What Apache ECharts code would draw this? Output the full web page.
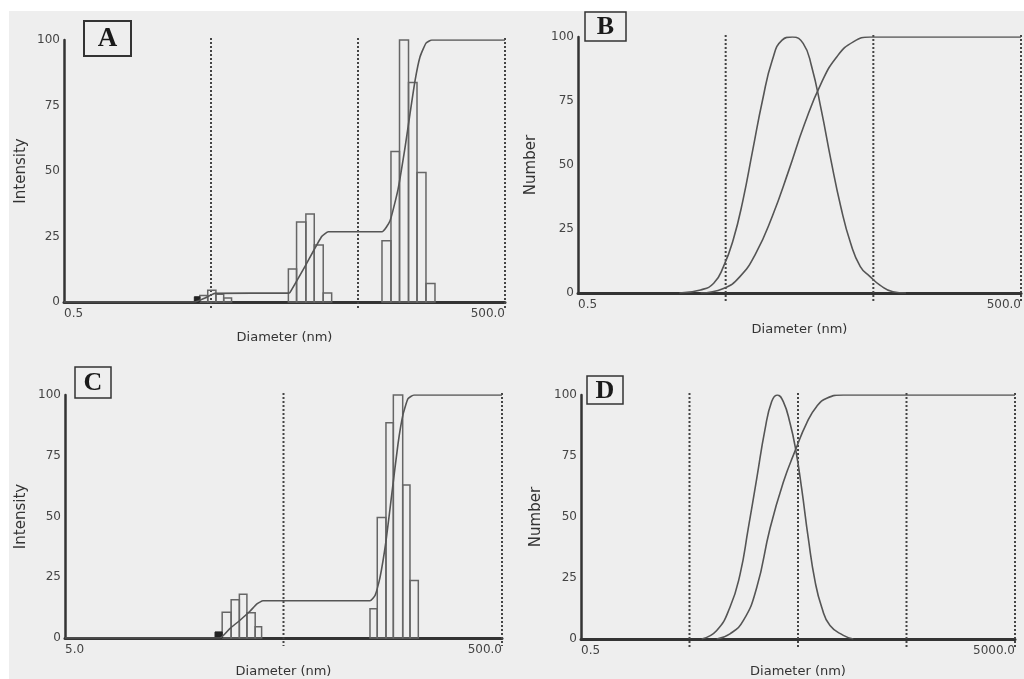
<!DOCTYPE html>
<html>
<head>
<meta charset="utf-8">
<script src="https://cdn.jsdelivr.net/npm/echarts@6/dist/echarts.min.js"></script>
<style>
html, body { margin: 0; padding: 0; background: #fff; }
#wrap { position: relative; width: 1024px; height: 679px; overflow: hidden; }
#paper { position: absolute; left: 9px; top: 11px; right: 0; bottom: 0; background: #eeeeee; }
#main { position: absolute; left: 0; top: 0; width: 1024px; height: 679px; }
</style>
</head>
<body>
<div id="wrap"><div id="paper"></div><div id="main"></div></div>
<script>
// ---- data, diameters in nm ----
// A: intensity histogram [from, to, %]
var barsA = [
  [4.2, 4.75, 2.5], [4.75, 5.4, 4.5], [5.4, 6.1, 3], [6.1, 6.9, 1.5],
  [16.8, 19.1, 12.6], [19.1, 22.1, 30.5], [22.1, 25.2, 33.6], [25.2, 29.0, 21.8], [29.0, 33.1, 3.4],
  [72.8, 83.8, 23.4], [83.8, 95.8, 57.4], [95.8, 110.3, 100], [110.3, 126, 83.8], [126, 145, 49.4], [145, 167, 7.1]
];
var solidA = [[3.85, 4.2, 2]];
var cumA = [[0.5, 0], [3.89, 0], [4.55, 1.5], [5.32, 3.3], [16.7, 3.4], [17.2, 3.6], [22, 14], [28.3, 25], [31.4, 26.8],
  [72.8, 26.8], [82.6, 31], [93.6, 43], [104.5, 59], [113, 72], [122.2, 84.5], [132, 93.5], [145.1, 98.8], [159, 100], [500, 100]];

// B: number distribution
var numB = [[2.43, 0], [3.38, 1.2], [4.15, 3.8], [4.83, 10.3], [5.62, 20.7], [6.55, 36.3], [7.63, 55.9], [8.89, 75.4],
  [10.35, 91], [12.05, 98.8], [14.16, 100], [16.74, 97.5], [19.05, 88.8], [22.2, 71.5], [25.8, 52], [30.1, 33.7],
  [35.1, 19.4], [40.8, 10.3], [47.5, 6.4], [55.4, 3.1], [67.8, 0.5], [83.1, 0]];
var cumB = [[3.38, 0], [4.83, 1.8], [6.2, 6.2], [8.0, 15.5], [10.35, 30], [13.4, 48], [17.1, 66], [22.2, 82],
  [28.5, 92.5], [36.8, 98.2], [47.5, 100], [61.3, 100], [500, 100]];

// C: intensity histogram
var barsC = [
  [26.2, 28.8, 10.6], [28.8, 31.4, 15.7], [31.4, 34.0, 18], [34.0, 37.1, 10.4], [37.1, 39.7, 4.6],
  [124.4, 134.3, 12], [134.3, 147.2, 49.6], [147.2, 159.1, 88.6], [159.1, 175.6, 100], [175.6, 189.6, 63], [189.6, 207, 23.7]
];
var solidC = [[24.3, 26.2, 2.5]];
var cumC = [[5, 0], [25.6, 0], [28.5, 4], [31.6, 7.3], [35.1, 11], [37.8, 14], [40.3, 15.3], [124.4, 15.3], [131.2, 17.5],
  [138.3, 25], [147.3, 40], [156.9, 60], [167.2, 80], [176.2, 92], [185.7, 98.5], [197.8, 100], [500, 100]];

// D: number distribution
var numD = [[6.48, 0], [8.91, 3.5], [11.8, 13], [14.6, 26.4], [17.4, 45.3], [20.8, 65.6], [24.8, 85.8], [28.6, 97.3],
  [32.2, 100], [36.6, 97.3], [42.2, 88.5], [47.6, 77.7], [54.1, 61.5], [62.2, 41.3], [71.7, 23.8], [82.7, 13],
  [98.6, 5.5], [130.9, 1.5], [161.7, 0]];
var cumD = [[8.91, 0], [11.8, 2.1], [15.7, 7.6], [20.8, 21], [27.6, 45.3], [36.6, 64.2], [47.6, 77.7], [60.1, 88.5],
  [74.3, 95.3], [92, 98.7], [130.9, 100], [5000, 100]];

// dotted guides and axis ranges
var guidesA = [5, 50, 500];
var guidesB = [5, 50, 500];
var guidesC = [50, 500];
var guidesD = [5, 50, 500, 5000];
var rangeA = [0.5, 500], rangeB = [0.5, 500], rangeC = [5, 500], rangeD = [0.5, 5000];
var xLabelsA = ['0.5', '500.0'], xLabelsB = ['0.5', '500.0'], xLabelsC = ['5.0', '500.0'], xLabelsD = ['0.5', '5000.0'];
var yNames = ['Intensity', 'Number', 'Intensity', 'Number'];
var panelNames = ['A', 'B', 'C', 'D'];

var ink = '#333';
var curve = '#555';
var font = 'DejaVu Sans';

var chart = echarts.init(document.getElementById('main'), null, { renderer: 'canvas' });

function xAxis(gi, range, labels, gap) {
  return {
    type: 'log', logBase: 10, gridIndex: gi, min: range[0], max: range[1],
    name: 'Diameter (nm)', nameLocation: 'middle', nameGap: gap,
    nameTextStyle: { color: ink, fontFamily: font, fontSize: 13 },
    axisLine: { onZero: false, lineStyle: { color: ink, width: 3 } },
    axisTick: { show: false }, splitLine: { show: false },
    axisLabel: {
      color: '#444', fontFamily: font, fontSize: 12, margin: 6,
      showMinLabel: true, showMaxLabel: true, alignMinLabel: 'left', alignMaxLabel: 'right',
      formatter: function (v) {
        if (Math.abs(v / range[0] - 1) < 1e-3) return labels[0];
        if (Math.abs(v / range[1] - 1) < 1e-3) return labels[1];
        return '';
      }
    }
  };
}

function yAxis(gi, name, gap) {
  return {
    type: 'value', gridIndex: gi, min: 0, max: 100, interval: 25,
    name: name, nameLocation: 'middle', nameGap: gap,
    nameTextStyle: { color: ink, fontFamily: font, fontSize: 15 },
    axisLine: { show: true, lineStyle: { color: ink, width: 2.5 } },
    axisTick: { show: false }, splitLine: { show: false },
    axisLabel: { color: '#444', fontFamily: font, fontSize: 12, margin: 4 }
  };
}

// outlined histogram bars
function barSeries(gi, data, filled) {
  return {
    type: 'custom', xAxisIndex: gi, yAxisIndex: gi, data: data, clip: false, z: 3,
    renderItem: function (params, api) {
      var a = api.coord([api.value(0), 0]);
      var b = api.coord([api.value(1), api.value(2)]);
      return {
        type: 'rect',
        shape: { x: a[0], y: b[1], width: b[0] - a[0], height: a[1] - b[1] },
        style: filled ? { fill: '#222', stroke: '#222', lineWidth: 1 }
                      : { fill: 'none', stroke: '#666', lineWidth: 1.5 }
      };
    }
  };
}

// vertical dotted decade lines
function guideSeries(gi, vals) {
  return {
    type: 'custom', xAxisIndex: gi, yAxisIndex: gi, data: vals.map(function (v) { return [v]; }), clip: false, z: 2,
    renderItem: function (params, api) {
      var top = api.coord([api.value(0), 100]);
      var bot = api.coord([api.value(0), 0]);
      return {
        type: 'line',
        shape: { x1: top[0], y1: top[1] - 2, x2: bot[0], y2: bot[1] + 8 },
        style: { stroke: '#444', lineWidth: 2, lineDash: [2, 2] }
      };
    }
  };
}

function lineSeries(gi, data, smooth) {
  return {
    type: 'line', xAxisIndex: gi, yAxisIndex: gi, data: data, showSymbol: false, symbol: 'none',
    smooth: smooth, z: 4,
    lineStyle: { color: curve, width: 1.6 }
  };
}

var boxes = [
  { t: 'A', x: 84, y: 21, w: 47, h: 35, s: 27, lw: 2 },
  { t: 'B', x: 585, y: 12, w: 41, h: 29, s: 26, lw: 1.5 },
  { t: 'C', x: 75, y: 367, w: 36, h: 31, s: 26, lw: 1.5 },
  { t: 'D', x: 587, y: 376, w: 36, h: 28, s: 26, lw: 1.5 }
];
var graphics = [];
boxes.forEach(function (b, i) {
  graphics.push({ type: 'rect', shape: { x: b.x, y: b.y, width: b.w, height: b.h },
    style: { fill: 'none', stroke: '#333', lineWidth: b.lw } });
  graphics.push({ type: 'text', x: b.x + b.w / 2, y: b.y + b.h / 2 + 1,
    style: { text: panelNames[i], fill: '#1a1a1a', fontFamily: 'Liberation Serif', fontWeight: 'bold', fontSize: b.s,
      align: 'center', verticalAlign: 'middle' } });
});

var option = {
  animation: false,
  backgroundColor: 'transparent',
  grid: [
    { left: 64, top: 40, width: 441, height: 262 },
    { left: 578, top: 37, width: 451, height: 256 },
    { left: 65, top: 395, width: 437, height: 248 },
    { left: 581, top: 395, width: 434, height: 247 }
  ],
  xAxis: [
    xAxis(0, rangeA, xLabelsA, 29),
    xAxis(1, rangeB, xLabelsB, 30),
    xAxis(2, rangeC, xLabelsC, 27),
    xAxis(3, rangeD, xLabelsD, 26)
  ],
  yAxis: [
    yAxis(0, yNames[0], 35),
    yAxis(1, yNames[1], 39),
    yAxis(2, yNames[2], 36),
    yAxis(3, yNames[3], 37)
  ],
  graphic: graphics,
  series: [
    guideSeries(0, guidesA), guideSeries(1, guidesB), guideSeries(2, guidesC), guideSeries(3, guidesD),
    barSeries(0, barsA, false), barSeries(0, solidA, true),
    barSeries(2, barsC, false), barSeries(2, solidC, true),
    lineSeries(0, cumA, 0.15),
    lineSeries(1, numB, 0.5), lineSeries(1, cumB, 0.5),
    lineSeries(2, cumC, 0.15),
    lineSeries(3, numD, 0.5), lineSeries(3, cumD, 0.5)
  ]
};
chart.setOption(option);
</script>
</body>
</html>
